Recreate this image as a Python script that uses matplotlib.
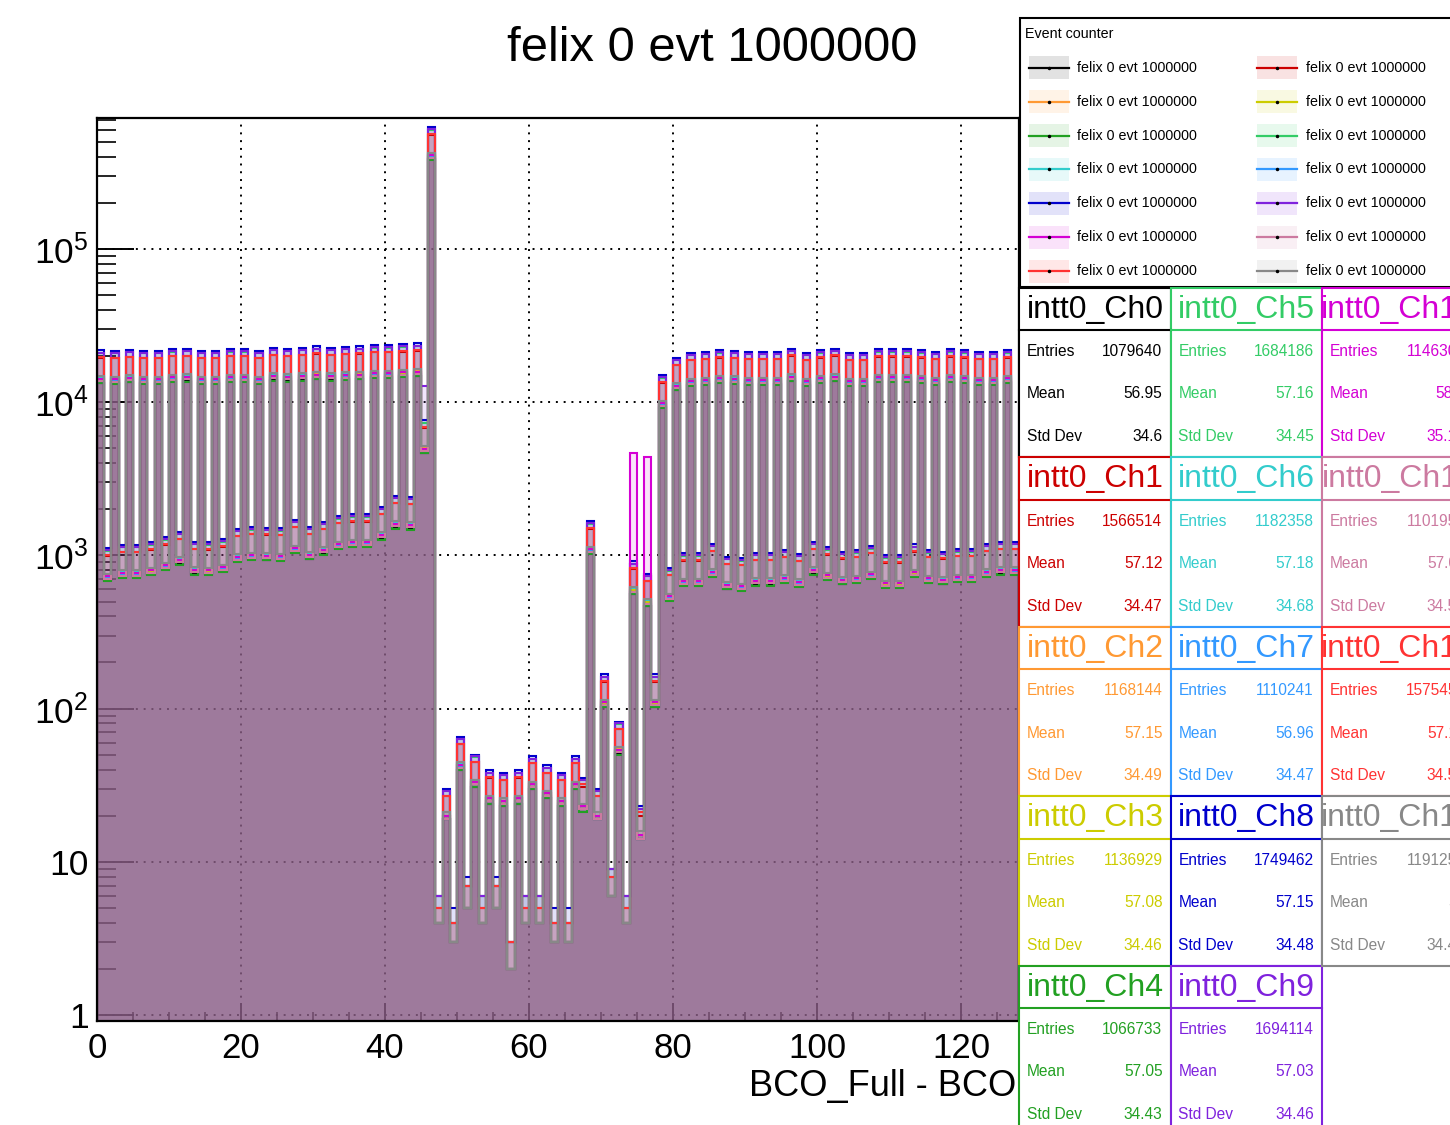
import numpy as np, matplotlib
matplotlib.use("Agg"); import matplotlib.pyplot as plt
from matplotlib.colors import to_rgba
from matplotlib.patches import Rectangle
from matplotlib.ticker import FixedLocator, FuncFormatter
plt.rcParams.update({"font.family":["Liberation Sans","DejaVu Sans"],"mathtext.fontset":"custom",
                     "mathtext.rm":"Liberation Sans","mathtext.it":"Liberation Sans:italic"})

# --- data ---
title = "felix 0 evt 1000000"
xlabel = "BCO_Full - BCO"
channels = [f"intt0_Ch{i}" for i in range(14)]
colors = ["#000000","#cc0000","#ff9933","#cccc00","#22a022","#33cc66","#33cccc",
          "#3399ff","#0000cc","#7f22dd","#d400d4","#cc7aa0","#ff3333","#888888"]
entries = [1079640,1566514,1168144,1136929,1066733,1684186,1182358,
           1110241,1749462,1694114,1146306,1101957,1575451,1191253]
means = [56.95,57.12,57.15,57.08,57.05,57.16,57.18,56.96,57.15,57.03,58.2,57.06,57.14,57.0]
stds = [34.6,34.47,34.49,34.46,34.43,34.45,34.68,34.47,34.48,34.46,35.14,34.52,34.51,34.47]
# typical channel counts per BCO bin (0..127); channels scale with their entries
ref_counts = [14300,733,14200,770,14500,770,14200,801,14200,864,14600,939,14700,809,14200,801,
              14200,838,14600,979,14600,1005,14200,999,14900,990,14700,1120,14900,1014,15200,1092,
              14900,1189,15100,1220,15200,1220,15500,1368,15500,1614,15700,1590,15900,5000,410000,4,
              20,3,43,5,33,4,26,5,25,2,26,4,32,4,28,3,
              25,3,32,23,1100,20,110,6,54,4,600,15,500,110,9860,543,
              12860,680,13780,680,13990,782,14360,646,14210,631,13990,686,13990,686,13990,714,
              14730,673,13780,809,14360,743,14730,697,13780,711,13780,757,14570,658,14570,658,
              14570,776,14360,711,13990,697,14570,724,14360,724,13990,783,13990,809,14360,805]
# single-channel outliers: (channel, bin, counts)
spikes = [(10,74,4670),(10,76,4400),(9,45,12800)]

scale = np.array(entries)/1.15e6
counts = np.round(np.outer(scale, ref_counts))
for c,b,v in spikes: counts[c,b] = v
edges = np.arange(len(ref_counts)+1)
fill_alpha = 0.115

fig = plt.figure(figsize=(14.5,11.25), dpi=100)
ax = fig.add_axes([97/1450, 1-1021/1125, 921.6/1450, 903/1125])
for c,col in enumerate(colors):
    y = np.where(counts[c]>0, counts[c], 1e-3)
    ax.stairs(y, edges, baseline=1e-3, fill=True, facecolor=to_rgba(col,fill_alpha), edgecolor="none", zorder=2)
    ax.stairs(y, edges, baseline=1e-3, color=col, lw=1.5, zorder=2.1)
ax.set_yscale("log"); ax.set_xlim(0,128); ax.set_ylim(0.914,7.16e5)
ax.xaxis.set_major_locator(FixedLocator(range(0,121,20)))
ax.xaxis.set_minor_locator(FixedLocator(range(0,129,5)))
ax.yaxis.set_major_locator(FixedLocator([1,10,1e2,1e3,1e4,1e5]))
ax.yaxis.set_minor_locator(FixedLocator([k*10**d for d in range(6) for k in range(2,10) if k*10**d<7.16e5]))
ax.yaxis.set_major_formatter(FuncFormatter(lambda v,p: {1:"1",10:"10"}.get(int(round(v)), r"$\mathregular{10^{%d}}$" % round(np.log10(v)))))
ax.tick_params(axis="x", which="major", direction="in", length=13, width=1.4, labelsize=25, pad=8)
ax.tick_params(axis="x", which="minor", direction="in", length=6.5, width=1.2)
ax.tick_params(axis="y", which="major", direction="in", length=26.6, width=1.4, labelsize=25.5, pad=6)
ax.tick_params(axis="y", which="minor", direction="in", length=13.7, width=1.2)
ax.set_axisbelow(True)
ax.grid(True, which="major", color="black", linestyle=(0,(1,3)), linewidth=1.4)
for s in ax.spines.values(): s.set_linewidth(1.6); s.set_zorder(5)
ax.set_xlabel(xlabel, fontsize=26, ha="right"); ax.xaxis.set_label_coords(0.997, -0.053)
fig.text(712/1450, 1-61/1125, title, fontsize=35.2, ha="center", va="baseline")

# overlay in pixel coordinates for legend and stat boxes
ov = fig.add_axes([0,0,1,1], zorder=10); ov.set_xlim(0,1450); ov.set_ylim(1125,0); ov.axis("off")
ov.add_patch(Rectangle((1019.7,17.7), 480, 269, facecolor="white", edgecolor="black", lw=1.5))
ov.text(1025.3, 34, "Event counter", fontsize=10.3, va="center")
row_y = [67.7,101.7,135.7,169.2,203.3,237.3,271.0]
for c,col in enumerate(colors):
    r, k = divmod(c, 2); yy = row_y[r]; x0 = [1028.7,1257.0][k]
    ov.add_patch(Rectangle((x0, yy-11.5), 40, 23, facecolor=to_rgba(col,fill_alpha), edgecolor="none"))
    ov.plot([x0,x0+40],[yy,yy], color=col, lw=1.6)
    ov.plot([x0+20],[yy], "o", ms=1.5, color="black")
    ov.text(x0+48.6, yy, title, fontsize=10.3, va="center")

col_x = [1019.5,1171.0,1322.5]; box_w, box_h = 151.5, 169.5
for c,col in enumerate(colors):
    k, r = divmod(c, 5); x0 = col_x[k]; y0 = 287.7 + r*box_h
    ov.add_patch(Rectangle((x0,y0), box_w, box_h, facecolor="white", edgecolor=col, lw=1.5))
    ov.plot([x0,x0+box_w],[y0+42.5,y0+42.5], color=col, lw=1.5)
    ov.text(x0+box_w/2, y0+22, channels[c], fontsize=23, color=col, ha="center", va="center")
    for dy,lab,val in [(64,"Entries",f"{entries[c]}"),(106.3,"Mean",f"{means[c]:.4g}"),(149,"Std Dev",f"{stds[c]:.4g}")]:
        ov.text(x0+7.5, y0+dy, lab, fontsize=11.2, color=col, va="center")
        ov.text(x0+box_w-8.5, y0+dy, val, fontsize=11.2, color=col, va="center", ha="right")

fig.savefig("out.png", dpi=100)
